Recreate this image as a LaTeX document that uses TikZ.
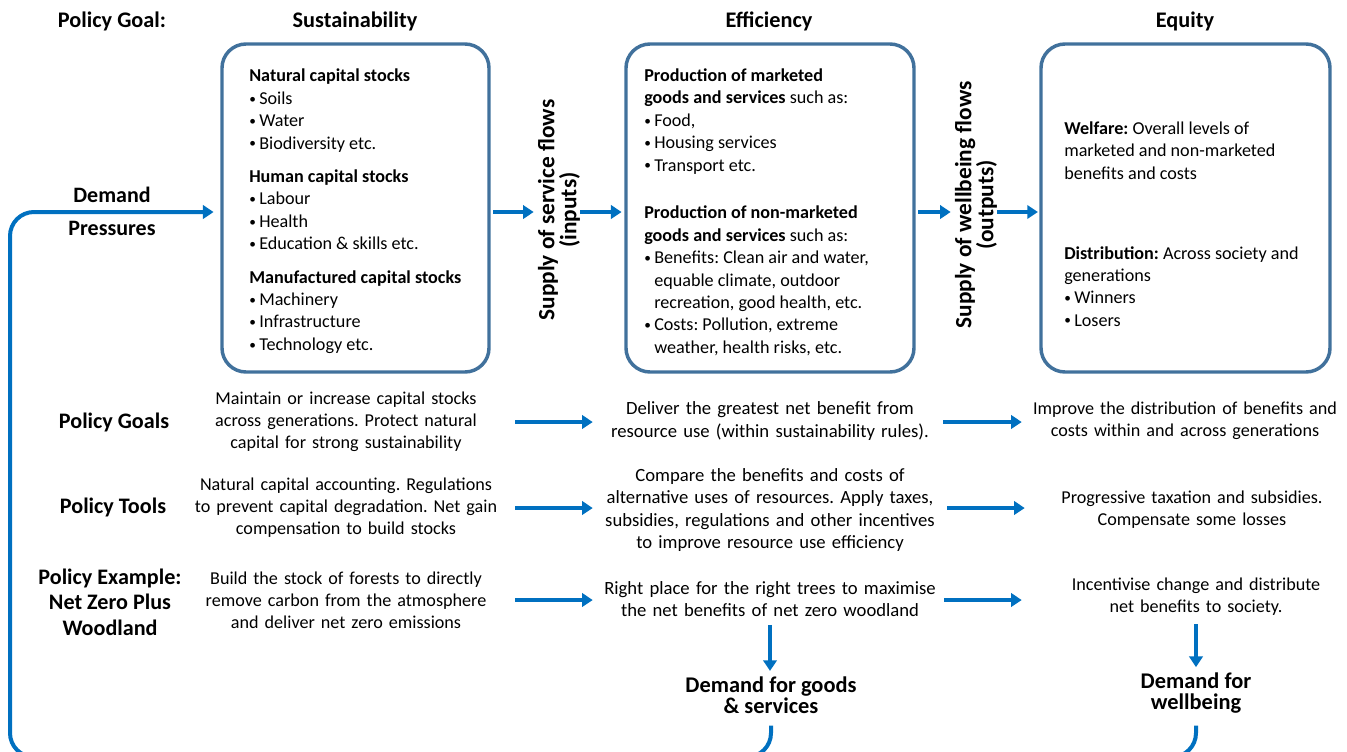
\documentclass[tikz,border=0pt]{standalone}
\usepackage{fontspec}
\setmainfont{Carlito}
\usetikzlibrary{arrows.meta}
\definecolor{boxblue}{HTML}{41719C}
\definecolor{arrblue}{HTML}{0070C0}
\newcommand{\bul}{\makebox[7.5pt][l]{\raisebox{0.15ex}{\fontsize{10}{10}\selectfont •}}}
\newcommand{\cont}{\hspace*{7.5pt}}
\frenchspacing
\begin{document}
\frenchspacing
\begin{tikzpicture}[x=0.75pt,y=-0.75pt,
  bigbox/.style={draw=boxblue, line width=2.6pt, rounded corners=18pt, fill=white, inner sep=0},
  hdr/.style={font=\fontsize{16.7}{19}\selectfont\bfseries, inner sep=0},
  boxtxt/.style={font=\fontsize{13.6}{16.8}\selectfont, align=left, anchor=north west, inner sep=0},
  rowlbl/.style={font=\fontsize{16.6}{19}\selectfont\bfseries, align=center, inner sep=0},
  rowtxt/.style={font=\fontsize{13.6}{16.6}\selectfont, align=center, inner sep=0},
  colA/.style={rowtxt, text width=240pt},
  colB/.style={rowtxt, text width=255pt, font=\fontsize{14}{16.6}\selectfont},
  colC/.style={rowtxt, text width=255pt},
  arr/.style={draw=arrblue, line width=3pt, -{Triangle[length=8pt,width=10pt]}},
  flowline/.style={draw=arrblue, line width=3pt},
  flowlbl/.style={font=\fontsize{17.5}{16.5}\selectfont\bfseries, align=center, rotate=90, inner sep=0},
  demand/.style={font=\fontsize{16.8}{15.75}\selectfont\bfseries, align=center, inner sep=0}]
\useasboundingbox (0,0) rectangle (1347,751);

% headers
\node[hdr] (pg) at (112,21) {Policy Goal:};
\node[hdr] (hs) at (355,21) {Sustainability};
\node[hdr] (he) at (769,21) {Efficiency};
\node[hdr] (hq) at (1185,21) {Equity};

% boxes
\node[bigbox, minimum width=200.25pt, minimum height=246pt] (box1) at (355.5,208) {};
\node[bigbox, minimum width=216pt, minimum height=246pt] (box2) at (770,208) {};
\node[bigbox, minimum width=216.75pt, minimum height=246pt] (box3) at (1185.5,208) {};

\node[boxtxt] (bt1) at (249,69) {\textbf{Natural capital stocks}\\
\bul Soils\\ \bul Water\\ \bul Biodiversity etc.\\[8.25pt]
\textbf{Human capital stocks}\\
\bul Labour\\ \bul Health\\ \bul Education \& skills etc.\\[8.25pt]
\textbf{Manufactured capital stocks}\\
\bul Machinery\\ \bul Infrastructure\\ \bul Technology etc.};

\node[boxtxt] (bt2) at (644,68.5) {\textbf{Production of marketed}\\
\textbf{goods and services} such as:\\
\bul Food,\\ \bul Housing services\\ \bul Transport etc.\\[19pt]
\textbf{Production of non-marketed}\\
\textbf{goods and services} such as:\\
\bul Benefits: Clean air and water,\\
\cont equable climate, outdoor\\
\cont recreation, good health, etc.\\
\bul Costs: Pollution, extreme\\
\cont weather, health risks, etc.};

\node[boxtxt] (bt3) at (1064,121.5) {\textbf{Welfare:} Overall levels of\\
marketed and non-marketed\\
benefits and costs\\[43pt]
\textbf{Distribution:} Across society and\\
generations\\
\bul Winners\\ \bul Losers};

% flow labels
\coordinate (fy) at (0,212);
\node[flowlbl] (sf) at (559,210) {Supply of service flows\\(inputs)};
\node[flowlbl] (wf) at (976,205) {Supply of wellbeing flows\\(outputs)};

\draw[arr, shorten <=2pt, shorten >=3pt] (box1.east |- fy) -- (sf.north |- fy);
\draw[arr, shorten <=0pt, shorten >=2pt] (sf.south |- fy) -- (box2.west |- fy);
\draw[arr, shorten <=2pt, shorten >=3pt] (box2.east |- fy) -- (wf.north |- fy);
\draw[arr, shorten <=0pt, shorten >=1pt] (wf.south |- fy) -- (box3.west |- fy);

% demand pressures
\node[hdr, align=center, font=\fontsize{16.5}{24.75}\selectfont\bfseries] (dp) at (112,211) {Demand\\Pressures};

% row labels
\node[rowlbl] (lg) at (114,422) {Policy Goals};
\node[rowlbl] (lt) at (113,507) {Policy Tools};
\node[rowlbl] (le) at (110,602) {Policy Example:\\Net Zero Plus\\Woodland};

% column texts
\node[colA] (g1) at (346,422) {Maintain or increase capital stocks\\across generations. Protect natural\\capital for strong sustainability};
\node[colA] (t1) at (346,508) {Natural capital accounting. Regulations\\to prevent capital degradation. Net gain\\compensation to build stocks};
\node[colA] (e1) at (346,600) {Build the stock of forests to directly\\remove carbon from the atmosphere\\and deliver net zero emissions};

\node[colB] (g2) at (770,421) {Deliver the greatest net benefit from\\resource use (within sustainability rules).};
\node[colB] (t2) at (770,510) {Compare the benefits and costs of\\alternative uses of resources. Apply taxes,\\subsidies, regulations and other incentives\\to improve resource use efficiency};
\node[colB] (e2) at (770,599) {Right place for the right trees to maximise\\the net benefits of net zero woodland};

\node[colC] (g3) at (1185,421) {Improve the distribution of benefits and\\costs within and across generations};
\node[colC] (t3) at (1192,510) {Progressive taxation and subsidies.\\Compensate some losses};
\node[colC] (e3) at (1196,597) {Incentivise change and distribute\\net benefits to society.};

% row arrows
\draw[arr, shorten <=6.75pt, shorten >=5.25pt] (g1.east) -- (g1.east -| g2.west);
\draw[arr, shorten <=6.75pt, shorten >=5.25pt] (t1.east) -- (t1.east -| t2.west);
\draw[arr, shorten <=6.75pt, shorten >=5.25pt] (e1.east) -- (e1.east -| e2.west);
\draw[arr, shorten <=2.25pt, shorten >=-5.25pt] (g2.east |- g1.east) -- (g1.east -| g3.west);
\draw[arr, shorten <=5.25pt, shorten >=-2.25pt] (t2.east |- t1.east) -- (t1.east -| t3.west);
\draw[arr, shorten <=3pt, shorten >=3pt] (e2.east |- e1.east) -- (e1.east -| e3.west);

% demand nodes
\node[demand] (goods) at (771,695) {Demand for goods\\\& services};
\node[demand] (wb) at (1196,693) {Demand for\\wellbeing};

\draw[arr, shorten <=6pt, shorten >=4pt] (e2.south) -- (e2.south |- goods.north);
\draw[arr, shorten <=6pt, shorten >=4pt] (e3.south -| wb.north) -- (wb.north);

% feedback loop
\coordinate (bot) at (10,757);
\draw[arr, rounded corners=18pt, shorten >=5pt] ([yshift=-9pt]goods.south) -- (goods.south |- bot) -- (bot) -- (bot |- fy) -- (box1.west |- fy);
\draw[flowline, rounded corners=18pt] ([yshift=-9pt]wb.south) |- (goods.south |- bot);
\end{tikzpicture}
\end{document}
